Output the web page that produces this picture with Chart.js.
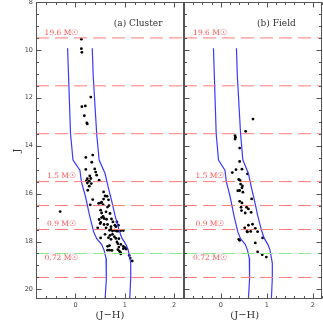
<!DOCTYPE html>
<html><head><meta charset="utf-8">
<script src="https://cdn.jsdelivr.net/npm/chart.js@4.4.1/dist/chart.umd.min.js"></script>
<style>html,body{margin:0;padding:0;background:#fff;}#wrap{position:relative;width:323px;height:330px;}canvas{position:absolute;left:0;top:0;}</style>
</head><body><div id="wrap"><canvas id="c1" width="323" height="330"></canvas><canvas id="c2" width="323" height="330"></canvas></div>
<script>
// ---- data ----
const xRange = [-0.8, 2.2];
const yRange = [8, 20.4];
const xTickLabels = [0, 1, 2];
const yTickLabels = [8, 10, 12, 14, 16, 18, 20];
const massLineJ = [9.5, 11.5, 13.5, 15.5, 16.5, 17.5, 19.5];
const greenLineJ = [18.5];
const massLabels = ['19.6 M☉', '1.5 M☉', '0.9 M☉', '0.72 M☉'];
const massLabelJ = [9.3, 15.27, 17.28, 18.7];
const panelTitles = ['(a) Cluster', '(b) Field'];
const xTitle = '(J−H)';
const yTitle = 'J';

const isoBlue = [[-0.16,9.93],[-0.14,11.1],[-0.1,13.5],[-0.05,14.6],[0.09,15.02],[0.12,15.5],[0.2,16.1],[0.29,16.95],[0.37,17.6],[0.43,17.88],[0.53,18.12],[0.58,18.36],[0.62,18.7],[0.63,19.0],[0.62,19.6],[0.6,20.4]];
const isoRed = [[0.34,9.93],[0.36,11.1],[0.43,13.5],[0.48,14.6],[0.6,15.16],[0.66,15.7],[0.73,16.27],[0.8,16.9],[0.88,17.5],[0.94,17.85],[1.03,18.15],[1.07,18.36],[1.12,18.9],[1.12,19.5],[1.1,20.4]];

const clusterPoints = [[0.12,9.55],[0.12,9.95],[0.13,10.1],[0.31,11.97],[0.13,12.37],[0.2,12.34],[0.18,12.75],[0.23,13.05],[0.24,13.09],[0.35,14.39],[0.21,14.49],[0.33,14.69],[0.39,14.97],[0.21,14.99],
[0.41,15.1],[0.43,15.23],[0.29,15.26],[0.24,15.38],[0.31,15.37],[0.48,15.44],[0.22,15.47],[0.28,15.48],[0.24,15.56],[0.32,15.58],[0.28,15.69],[0.25,15.86],[0.57,15.93],[0.6,16.1],[0.64,16.11],[0.35,16.25],[0.57,16.23],[0.67,16.26],[0.53,16.36],[0.47,16.41],[0.51,16.39],[0.56,16.46],[0.3,16.47],[0.68,16.5],[0.65,16.56],[0.51,16.69],[0.53,16.81],[0.62,16.76],[-0.31,16.75],[0.7,16.83],[0.56,16.95],[0.53,17.0],[0.58,17.04],[0.63,17.07],[0.48,17.08],[0.73,17.06],[0.51,17.2],[0.76,17.18],[0.84,17.18],[0.5,17.25],[0.58,17.29],[0.65,17.29],[0.8,17.32],[0.87,17.32],[0.72,17.38],[0.82,17.38],[0.62,17.43],[0.45,17.43],[0.72,17.49],[0.79,17.53],[0.83,17.56],[0.9,17.54],[0.92,17.54],[0.97,17.54],[0.69,17.53],[0.75,17.56],[0.86,17.57],[0.6,17.7],[0.75,17.7],[0.7,17.74],[0.51,17.85],[0.67,17.84],[0.79,17.8],[0.82,17.87],[0.72,17.91],[0.88,17.88],[0.84,18.02],[0.86,18.09],[0.92,18.12],[0.97,18.2],[0.88,18.23],[0.65,18.2],[0.69,18.17],[1.01,18.26],[0.86,18.34],[0.74,18.37],[0.65,18.36],[0.69,18.36],[0.89,18.4],[0.91,18.45],[0.97,18.3],[0.92,18.52],[1.03,18.32],[1.09,18.58],[1.11,18.69],[1.15,18.81]];

const fieldPoints = [[0.7,12.89],[0.54,13.4],[0.31,13.58],[0.32,13.65],[0.31,13.72],[0.41,14.1],[0.41,14.66],[0.46,14.98],[0.33,15.0],[0.25,15.12],[0.58,15.18],[0.39,15.41],[0.42,15.45],[0.43,15.6],[0.47,15.68],[0.46,15.76],[0.37,15.88],[0.41,15.87],[0.48,15.94],[0.67,16.22],[0.41,16.32],[0.46,16.39],[0.56,16.57],[0.6,16.64],[0.44,16.57],[0.45,16.71],[0.53,16.81],[0.66,16.78],[0.69,17.28],[0.6,17.32],[0.52,17.43],[0.75,17.45],[0.57,17.58],[0.58,17.6],[0.65,17.58],[0.8,17.59],[0.39,17.91],[0.41,17.95],[0.91,17.85],[0.75,18.06],[0.8,18.43],[0.9,18.55],[0.99,18.65]];

// ---- styling / plugins ----
const AXIS_COLOR = '#555';
const TXT_FONT = '"DejaVu Serif", "Liberation Serif", serif';

const framePlugin = {
  id: 'frame',
  afterDatasetsDraw(chart, args, opts) {
    const {ctx, chartArea: {left, right, top, bottom}, scales: {x, y}} = chart;
    ctx.save();
    ctx.strokeStyle = AXIS_COLOR;
    ctx.lineWidth = 1;
    const L = Math.round(left) + 0.5, R = Math.round(right) - 0.5, T = Math.round(top) + 0.5, B = Math.round(bottom) - 0.5;
    ctx.strokeRect(L, T, R - L, B - T);
    ctx.beginPath();
    for (let i = 16; i <= 40; i++) {
      const v = i / 2;
      const p = Math.round(y.getPixelForValue(v)) + 0.5;
      const len = (i % 4 === 0) ? 5 : 2.5;
      if (opts.left) { ctx.moveTo(L, p); ctx.lineTo(L + len, p); }
      if (opts.right) { ctx.moveTo(R, p); ctx.lineTo(R - len, p); }
    }
    for (let i = -4; i <= 11; i++) {
      const v = i / 5;
      const p = Math.round(x.getPixelForValue(v)) + 0.5;
      const len = (i % 5 === 0) ? 5 : 2.5;
      ctx.moveTo(p, T); ctx.lineTo(p, T + len);
      ctx.moveTo(p, B); ctx.lineTo(p, B - len);
    }
    ctx.stroke();
    ctx.restore();
  }
};

const textPlugin = {
  id: 'texts',
  afterDraw(chart, args, opts) {
    const {ctx, chartArea: {left, bottom}, scales: {x, y}} = chart;
    ctx.save();
    ctx.textBaseline = 'middle';
    ctx.textAlign = 'center';
    ctx.fillStyle = '#333';
    ctx.font = '9px ' + TXT_FONT;
    ctx.fillText(opts.title, x.getPixelForValue(opts.titleX), y.getPixelForValue(opts.titleJ));
    ctx.font = '10px ' + TXT_FONT;
    ctx.fillText(xTitle, x.getPixelForValue(opts.xTitleX), bottom + 16);
    ctx.fillStyle = '#ff5555';
    ctx.font = '7.5px ' + TXT_FONT;
    massLabels.forEach((t, i) => {
      ctx.fillText(t, left + opts.labelOffset, y.getPixelForValue(massLabelJ[i]));
    });
    ctx.restore();
  }
};

function buildDatasets(points) {
  const ds = [];
  massLineJ.forEach(j => ds.push({type: 'line', data: [{x: xRange[0], y: j}, {x: xRange[1], y: j}], borderColor: '#ff7a7a', borderWidth: 1, borderDash: [13, 6], pointRadius: 0}));
  greenLineJ.forEach(j => ds.push({type: 'line', data: [{x: xRange[0], y: j}, {x: xRange[1], y: j}], borderColor: '#8fe88f', borderWidth: 1, borderDash: [13, 6], pointRadius: 0}));
  [isoBlue, isoRed].forEach(curve => ds.push({type: 'line', data: curve.map(p => ({x: p[0], y: p[1]})), borderColor: '#3a3aff', borderWidth: 1.2, pointRadius: 0, tension: 0}));
  ds.push({type: 'scatter', data: points.map(p => ({x: p[0], y: p[1]})), backgroundColor: '#000', borderColor: '#000', pointRadius: 1.4, borderWidth: 0});
  return ds;
}

function makeChart(id, points, cfg) {
  return new Chart(document.getElementById(id), {
    type: 'scatter',
    data: {datasets: buildDatasets(points)},
    plugins: [framePlugin, textPlugin],
    options: {
      responsive: false, animation: false, devicePixelRatio: 1,
      layout: {padding: cfg.padding, autoPadding: false},
      plugins: {legend: {display: false}, tooltip: {enabled: false},
        frame: cfg.frame, texts: cfg.texts},
      scales: {
        x: {type: 'linear', min: xRange[0], max: xRange[1], position: 'bottom',
          grid: {display: false, drawTicks: false}, border: {display: false},
          afterBuildTicks: s => { s.ticks = xTickLabels.map(v => ({value: v})); },
          afterFit: s => { s.height = 31; s.paddingLeft = 0; s.paddingRight = 0; },
          ticks: {padding: 2, color: '#444', font: {size: 6.5, family: 'DejaVu Sans'}, maxRotation: 0, autoSkip: false}},
        y: {type: 'linear', min: yRange[0], max: yRange[1], reverse: true, display: cfg.showY,
          grid: {display: false, drawTicks: false}, border: {display: false},
          afterBuildTicks: s => { s.ticks = yTickLabels.map(v => ({value: v})); },
          afterFit: s => { s.width = cfg.showY ? 36 : 0; s.paddingTop = 0; s.paddingBottom = 0; },
          title: {display: true, text: yTitle, color: '#333', font: {size: 10, family: TXT_FONT}, padding: {top: 11, bottom: 0}},
          ticks: {padding: 3, color: '#444', font: {size: 6.5, family: 'DejaVu Sans'}, autoSkip: false}}
      }
    }
  });
}

makeChart('c1', clusterPoints, {
  padding: {top: 2, right: 139, left: 0, bottom: 0}, showY: true,
  frame: {left: true, right: false},
  texts: {title: panelTitles[0], titleX: 1.27, titleJ: 8.89, xTitleX: 0.7, labelOffset: 25.5}
});
makeChart('c2', fieldPoints, {
  padding: {top: 2, right: 1, left: 184, bottom: 0}, showY: false,
  frame: {left: true, right: true},
  texts: {title: panelTitles[1], titleX: 1.21, titleJ: 8.89, xTitleX: 0.52, labelOffset: 26}
});
</script></body></html>
